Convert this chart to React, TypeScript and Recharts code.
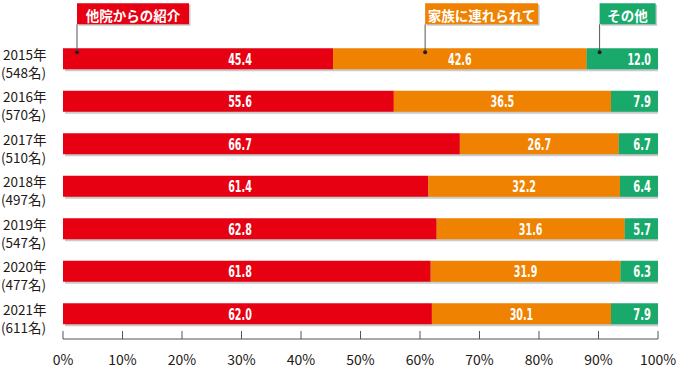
import React from 'react'
import { BarChart, Bar, XAxis, YAxis, LabelList } from 'recharts'

const years = ['2015年', '2016年', '2017年', '2018年', '2019年', '2020年', '2021年']
const counts = ['(548名)', '(570名)', '(510名)', '(497名)', '(547名)', '(477名)', '(611名)']
const referral = [45.4, 55.6, 66.7, 61.4, 62.8, 61.8, 62.0]
const family = [42.6, 36.5, 26.7, 32.2, 31.6, 31.9, 30.1]
const other = [12.0, 7.9, 6.7, 6.4, 5.7, 6.3, 7.9]
const xTicks = [0, 10, 20, 30, 40, 50, 60, 70, 80, 90, 100]
const seriesNames = ['他院からの紹介', '家族に連れられて', 'その他']

const RED = '#e60012'
const ORANGE = '#ef8200'
const GREEN = '#18a96b'
const SHADOW = '#c9caca'
const TEXT = '#231815'
const JP = "'Noto Sans CJK JP', 'Noto Sans', sans-serif"
const NUM = "'Liberation Sans Narrow', 'DejaVu Sans Condensed', sans-serif"

const data = years.map((year, i) => ({
  year,
  count: counts[i],
  referral: referral[i],
  family: family[i],
  other: other[i],
}))

// 影つきの棒
const ShadowBar = (props: any) => {
  const { x, y, width, height, fill } = props
  if (width == null || width <= 0) return null
  return (
    <g>
      <rect x={x + 2} y={y + 2} width={width} height={height} fill={SHADOW} />
      <rect x={x} y={y} width={width} height={height} fill={fill} />
    </g>
  )
}

// 2015年の棒から引き出すラベル
const Callout = ({ dotX, barY, label, color, boxW }: any) => {
  const boxTop = barY - 45
  const boxH = 21
  return (
    <g>
      <rect x={dotX + 1.5} y={boxTop + 1.5} width={boxW} height={boxH} fill={SHADOW} />
      <rect x={dotX} y={boxTop} width={boxW} height={boxH} fill={color} />
      <text
        x={dotX + boxW / 2}
        y={boxTop + boxH / 2 + 1}
        textAnchor="middle"
        dominantBaseline="central"
        fill="#fff"
        fontFamily={JP}
        fontWeight="bold"
        fontSize={13.5}
      >
        {label}
      </text>
      <line x1={dotX} y1={boxTop + boxH} x2={dotX} y2={barY + 4} stroke="#555" strokeWidth={1} />
      <circle cx={dotX} cy={barY + 4} r={2} fill="#222" />
    </g>
  )
}

const makeLabel = (kind: 'referral' | 'family' | 'other') => (p: any) => {
  const { x, y, width, height, value, index } = p
  const cy = y + height / 2
  const txt = Number(value).toFixed(1)
  let tx = x + width / 2
  let anchor: 'middle' | 'end' = 'middle'
  if (kind === 'referral') tx = x + 177
  if (kind === 'other') {
    tx = x + width - 7
    anchor = 'end'
  }
  let callout = null
  if (index === 0) {
    if (kind === 'referral')
      callout = <Callout dotX={x + 14} barY={y} label={seriesNames[0]} color={RED} boxW={112} />
    if (kind === 'family')
      callout = <Callout dotX={x + 92} barY={y} label={seriesNames[1]} color={ORANGE} boxW={113} />
    if (kind === 'other')
      callout = <Callout dotX={x + 13} barY={y} label={seriesNames[2]} color={GREEN} boxW={56} />
  }
  return (
    <g>
      <text
        x={tx}
        y={cy + 1}
        textAnchor={anchor}
        dominantBaseline="central"
        fill="#fff"
        fontFamily={NUM}
        fontWeight="bold"
        fontSize={15}
        textLength={txt.length * 5.9}
        lengthAdjust="spacingAndGlyphs"
      >
        {txt}
      </text>
      {callout}
    </g>
  )
}

const YearTick = (props: any) => {
  const { y, index } = props
  return (
    <g>
      <text x={3} y={y + 1} fill={TEXT} fontFamily={JP} fontSize={13.5}>
        {years[index]}
      </text>
      <text x={1} y={y + 19} fill={TEXT} fontFamily={JP} fontSize={13.5}>
        {counts[index]}
      </text>
    </g>
  )
}

const PercentTick = (props: any) => {
  const { x, y, payload } = props
  return (
    <g>
      <line x1={x} y1={y - 8} x2={x} y2={y} stroke="#555" strokeWidth={1} />
      <text x={x} y={y + 26} textAnchor="middle" fill={TEXT} fontFamily={JP} fontSize={14}>
        {`${payload.value}%`}
      </text>
    </g>
  )
}

export default function App() {
  return (
    <div style={{ position: 'absolute', left: 0, top: 0, width: 680, height: 370, background: '#fff' }}>
      <BarChart
        width={680}
        height={370}
        data={data}
        layout="vertical"
        margin={{ top: 37.25, right: 22, bottom: 0, left: 0 }}
        barSize={21}
      >
        <XAxis
          type="number"
          domain={[0, 100]}
          ticks={xTicks}
          allowDataOverflow
          height={31}
          tickSize={0}
          tickMargin={0}
          tickLine={false}
          axisLine={{ stroke: '#555', strokeWidth: 1 }}
          tick={<PercentTick />}
          interval={0}
        />
        <YAxis
          type="category"
          dataKey="year"
          width={63}
          padding={{ top: 0, bottom: 4.25 }}
          axisLine={false}
          tickLine={false}
          tickSize={0}
          tickMargin={0}
          tick={<YearTick />}
          interval={0}
        />
        <Bar dataKey="referral" stackId="a" fill={RED} shape={<ShadowBar />} isAnimationActive={false}>
          <LabelList dataKey="referral" content={makeLabel('referral')} />
        </Bar>
        <Bar dataKey="family" stackId="a" fill={ORANGE} shape={<ShadowBar />} isAnimationActive={false}>
          <LabelList dataKey="family" content={makeLabel('family')} />
        </Bar>
        <Bar dataKey="other" stackId="a" fill={GREEN} shape={<ShadowBar />} isAnimationActive={false}>
          <LabelList dataKey="other" content={makeLabel('other')} />
        </Bar>
      </BarChart>
    </div>
  )
}
